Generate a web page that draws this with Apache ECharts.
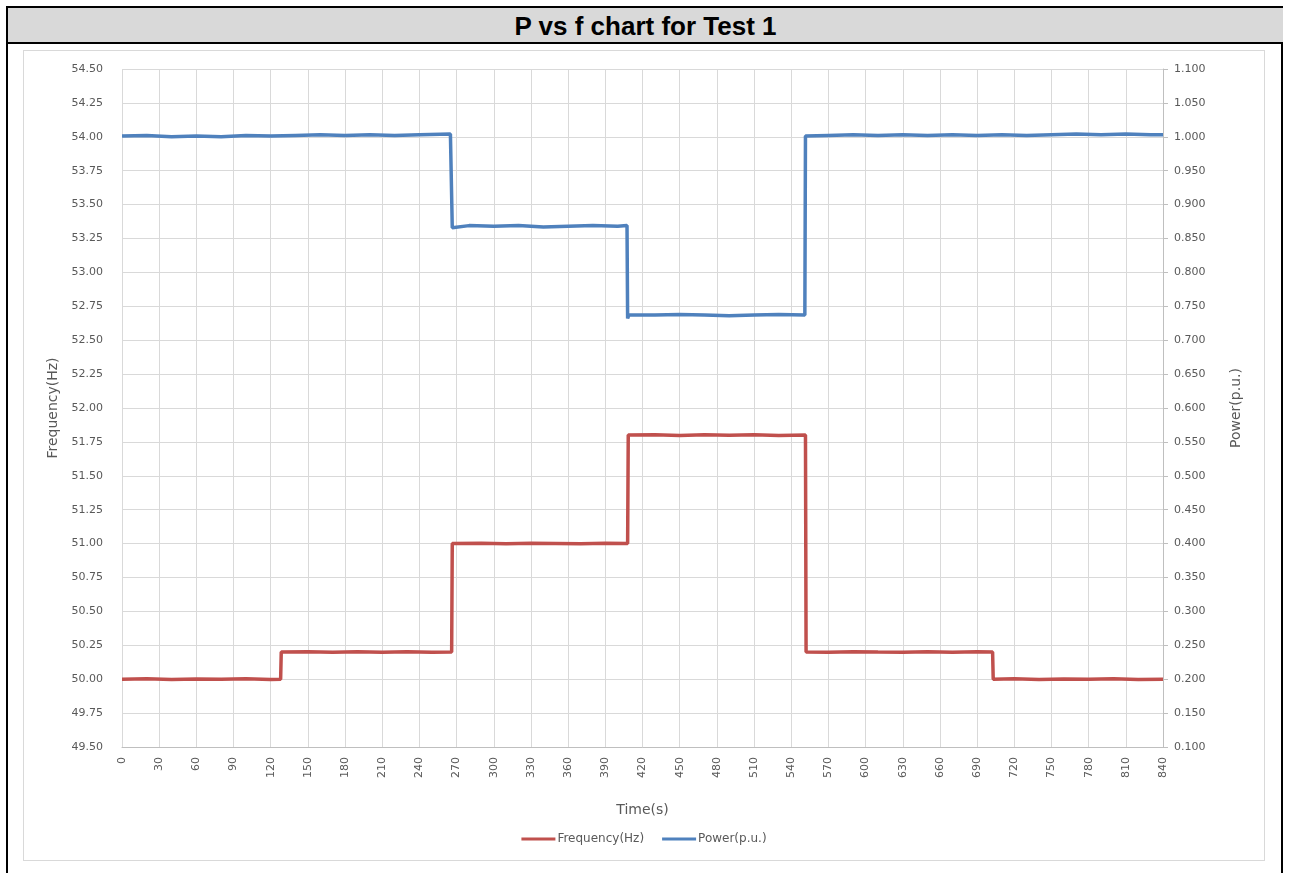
<!DOCTYPE html>
<html>
<head>
<meta charset="utf-8">
<script src="https://cdn.jsdelivr.net/npm/echarts@6/dist/echarts.min.js"></script>
<style>
html,body{margin:0;padding:0;background:#fff;width:1291px;height:873px;overflow:hidden;}
#frame{position:absolute;left:6px;top:6px;width:1277px;height:880px;border:2px solid #000;box-sizing:border-box;}
#title{position:absolute;left:8px;top:8px;width:1275px;height:36px;background:#d9d9d9;border-bottom:2px solid #000;box-sizing:border-box;
 font-family:"Liberation Sans",Arial,sans-serif;font-weight:bold;font-size:26px;text-align:center;line-height:36px;color:#000;}
#chart{position:absolute;left:23px;top:50px;width:1242px;height:811px;border:1px solid #d9d9d9;box-sizing:border-box;}
</style>
</head>
<body>
<div id="frame"></div>
<div id="title">P vs f chart for Test 1</div>
<div id="chart"></div>
<script>
// Time axis ticks (s)
const xTicks = [0,30,60,90,120,150,180,210,240,270,300,330,360,390,420,450,480,510,540,570,600,630,660,690,720,750,780,810,840];

// Frequency(Hz) series: time (s) and value
const freqTime = [0,20,40,60,80,100,120,128,128.5,150,170,190,210,230,250,266,266.5,290,310,330,350,370,390,408,408.5,430,450,470,490,510,530,551.5,552,570,590,610,630,650,670,690,702.5,703,720,740,760,780,800,820,840];
const freqValue = [50.00,50.003,49.998,50.002,50.000,50.003,49.998,50.000,50.200,50.203,50.198,50.202,50.199,50.203,50.198,50.200,51.000,51.003,50.998,51.002,51.000,50.998,51.003,51.000,51.800,51.803,51.798,51.802,51.799,51.803,51.798,51.800,50.200,50.198,50.203,50.200,50.198,50.202,50.199,50.203,50.200,50.000,50.003,49.998,50.002,49.999,50.003,49.998,50.000];

// Power(p.u.) series: time (s) and value
const powTime = [0,20,40,60,80,100,120,140,160,180,200,220,240,265,266,266.5,280,300,320,340,360,380,400,407.5,408,409,430,450,470,490,510,530,551,551.5,570,590,610,630,650,670,690,710,730,750,770,790,810,830,840];
const powValue = [1.001,1.002,1.000,1.001,1.000,1.002,1.001,1.002,1.003,1.002,1.003,1.002,1.003,1.004,1.003,0.866,0.869,0.868,0.869,0.867,0.868,0.869,0.868,0.869,0.732,0.737,0.737,0.738,0.737,0.736,0.737,0.738,0.737,1.001,1.002,1.003,1.002,1.003,1.002,1.003,1.002,1.003,1.002,1.003,1.004,1.003,1.004,1.003,1.003];

const seriesNames = ['Frequency(Hz)','Power(p.u.)'];
const colors = ['#c0504d','#4f81bd'];

const freqData = freqTime.map((t,i)=>[t,freqValue[i]]);
const powData = powTime.map((t,i)=>[t,powValue[i]]);

const font = '"DejaVu Sans", sans-serif';
const labelColor = '#595959';

const chart = echarts.init(document.getElementById('chart'));
chart.setOption({
  animation:false,
  textStyle:{fontFamily:font},
  grid:{left:98,top:18,width:1041,height:678,containLabel:false},
  legend:{
    data:seriesNames, bottom:10, left:'center', icon:'rect', itemWidth:34, itemHeight:3, itemGap:18,
    textStyle:{color:labelColor,fontSize:12,fontFamily:font,padding:[0,0,0,-3]}
  },
  xAxis:{
    type:'value', min:0, max:840, interval:30,
    name:'Time(s)', nameLocation:'middle', nameGap:56,
    nameTextStyle:{color:labelColor,fontSize:14,fontFamily:font},
    axisLine:{show:true,lineStyle:{color:'#bfbfbf'}},
    axisTick:{show:false},
    axisLabel:{rotate:90,color:labelColor,fontSize:11,margin:10,fontFamily:font},
    splitLine:{show:true,lineStyle:{color:'#d9d9d9',width:1}}
  },
  yAxis:[{
    type:'value', min:49.5, max:54.5, interval:0.25, position:'left',
    name:'Frequency(Hz)', nameLocation:'middle', nameGap:58, nameRotate:90,
    nameTextStyle:{color:labelColor,fontSize:14,fontFamily:font},
    axisLine:{show:false}, axisTick:{show:false},
    axisLabel:{color:labelColor,fontSize:11,margin:19,fontFamily:font,formatter:v=>v.toFixed(2)},
    splitLine:{show:true,lineStyle:{color:'#d9d9d9',width:1}}
  },{
    type:'value', min:0.1, max:1.1, interval:0.05, position:'right',
    name:'Power(p.u.)', nameLocation:'middle', nameGap:66, nameRotate:90,
    nameTextStyle:{color:labelColor,fontSize:14,fontFamily:font},
    axisLine:{show:true,lineStyle:{color:'#bfbfbf'}},
    axisTick:{show:true,length:5,lineStyle:{color:'#bfbfbf'}},
    axisLabel:{color:labelColor,fontSize:11,margin:11,fontFamily:font,formatter:v=>v.toFixed(3)},
    splitLine:{show:false}
  }],
  series:[{
    name:seriesNames[0], type:'line', yAxisIndex:0, data:freqData, showSymbol:false,
    lineStyle:{color:colors[0],width:3.5}, itemStyle:{color:colors[0]}
  },{
    name:seriesNames[1], type:'line', yAxisIndex:1, data:powData, showSymbol:false,
    lineStyle:{color:colors[1],width:3.5}, itemStyle:{color:colors[1]}
  }]
});
</script>
</body>
</html>
